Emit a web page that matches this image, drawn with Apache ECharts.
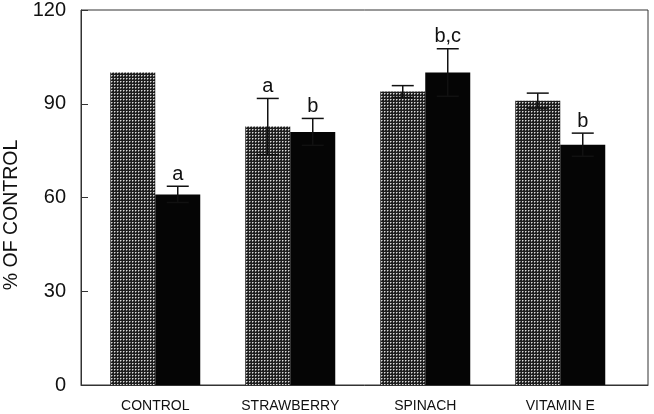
<!DOCTYPE html>
<html>
<head>
<meta charset="utf-8">
<script src="https://cdn.jsdelivr.net/npm/echarts@6/dist/echarts.min.js"></script>
<style>
html,body{margin:0;padding:0;background:#fff;}
#chart{width:654px;height:414px;}
</style>
</head>
<body>
<div id="chart"></div>
<script>
const categories = ['CONTROL', 'STRAWBERRY', 'SPINACH', 'VITAMIN E'];
const grayValues = [100, 82.7, 93.9, 91.0];
const grayErrors = [0, 9.0, 1.9, 2.4];
const grayLetters = ['', 'a', '', ''];
const blackValues = [61.0, 81.0, 100.0, 76.9];
const blackErrors = [2.6, 4.3, 7.6, 3.7];
const blackLetters = ['a', 'b', 'b,c', 'b'];
const yTicks = [0, 30, 60, 90, 120];
const yAxisTitle = '% OF CONTROL';

const BAR_W = 45;
const FONT = '"Liberation Sans", Arial, Helvetica, sans-serif';

// stippled pattern for the gray bars: light dots on a dark ground
const tile = document.createElement('canvas');
tile.width = 3; tile.height = 3;
const tctx = tile.getContext('2d');
tctx.fillStyle = '#1e1e1e';
tctx.fillRect(0, 0, 3, 3);
tctx.fillStyle = '#7c7c7c';
tctx.fillRect(1, 0, 1, 1);
tctx.fillRect(0, 1, 1, 1);
tctx.fillStyle = '#dadada';
tctx.fillRect(0, 0, 1, 1);
const grayPattern = { image: tile, repeat: 'repeat' };

function barData(values) {
  return values.map((v, i) => [i + 1, v]);
}

function errorSeries(values, errors, letters, side) {
  return {
    type: 'custom',
    z: 10,
    silent: true,
    encode: { x: 0, y: 1 },
    data: values.map((v, i) => [i + 1, v, errors[i]]),
    renderItem: function (params, api) {
      const idx = params.dataIndex;
      const x = api.value(0), v = api.value(1), e = api.value(2);
      const hi = api.coord([x, v + e]);
      const lo = api.coord([x, v - e]);
      const px = hi[0] + side * BAR_W / 2;
      const cap = 11;
      const lineStyle = { stroke: '#111', lineWidth: 1.5 };
      const children = [];
      if (e > 0) {
        children.push({ type: 'line', shape: { x1: px, y1: hi[1], x2: px, y2: lo[1] }, style: lineStyle });
        children.push({ type: 'line', shape: { x1: px - cap, y1: hi[1], x2: px + cap, y2: hi[1] }, style: lineStyle });
        children.push({ type: 'line', shape: { x1: px - cap, y1: lo[1], x2: px + cap, y2: lo[1] }, style: lineStyle });
      }
      const letter = letters[idx];
      if (letter) {
        children.push({
          type: 'text',
          style: {
            text: letter, x: px, y: hi[1] - 2,
            align: 'center', verticalAlign: 'bottom',
            fontSize: 20, fontFamily: FONT, fill: '#111'
          }
        });
      }
      return { type: 'group', children: children };
    }
  };
}

const chart = echarts.init(document.getElementById('chart'), null, { renderer: 'canvas' });
chart.setOption({
  animation: false,
  backgroundColor: '#fff',
  grid: {
    left: 81, right: 6, top: 6, bottom: 29,
    show: true, borderColor: '#333', borderWidth: 1, backgroundColor: 'transparent'
  },
  xAxis: {
    type: 'value',
    min: 0.45, max: 4.65,
    splitLine: { show: false },
    axisLine: { show: true, lineStyle: { color: '#333', width: 1 } },
    axisTick: { show: false },
    axisLabel: {
      customValues: [1, 2, 3, 4],
      formatter: function (v) { return categories[Math.round(v) - 1] || ''; },
      margin: 14,
      fontSize: 14, fontFamily: FONT, color: '#111'
    }
  },
  yAxis: {
    type: 'value',
    min: yTicks[0], max: yTicks[yTicks.length - 1], interval: yTicks[1] - yTicks[0],
    splitLine: { show: false },
    axisLine: { show: true, lineStyle: { color: '#333', width: 1 } },
    axisTick: { show: true, inside: true, length: 7, lineStyle: { color: '#333' } },
    axisLabel: { margin: 15, fontSize: 20, fontFamily: FONT, color: '#111' }
  },
  graphic: [{
    type: 'text',
    x: 12, y: 215,
    rotation: Math.PI / 2,
    style: {
      text: yAxisTitle, align: 'center', verticalAlign: 'middle',
      fontSize: 19.5, fontFamily: FONT, fill: '#111'
    }
  }],
  series: [
    {
      type: 'bar', name: 'gray',
      data: barData(grayValues),
      barWidth: BAR_W, barGap: '0%',
      itemStyle: { color: grayPattern }
    },
    {
      type: 'bar', name: 'black',
      data: barData(blackValues),
      barWidth: BAR_W, barGap: '0%',
      itemStyle: { color: '#050505' }
    },
    errorSeries(grayValues, grayErrors, grayLetters, -1),
    errorSeries(blackValues, blackErrors, blackLetters, 1)
  ]
});
</script>
</body>
</html>
